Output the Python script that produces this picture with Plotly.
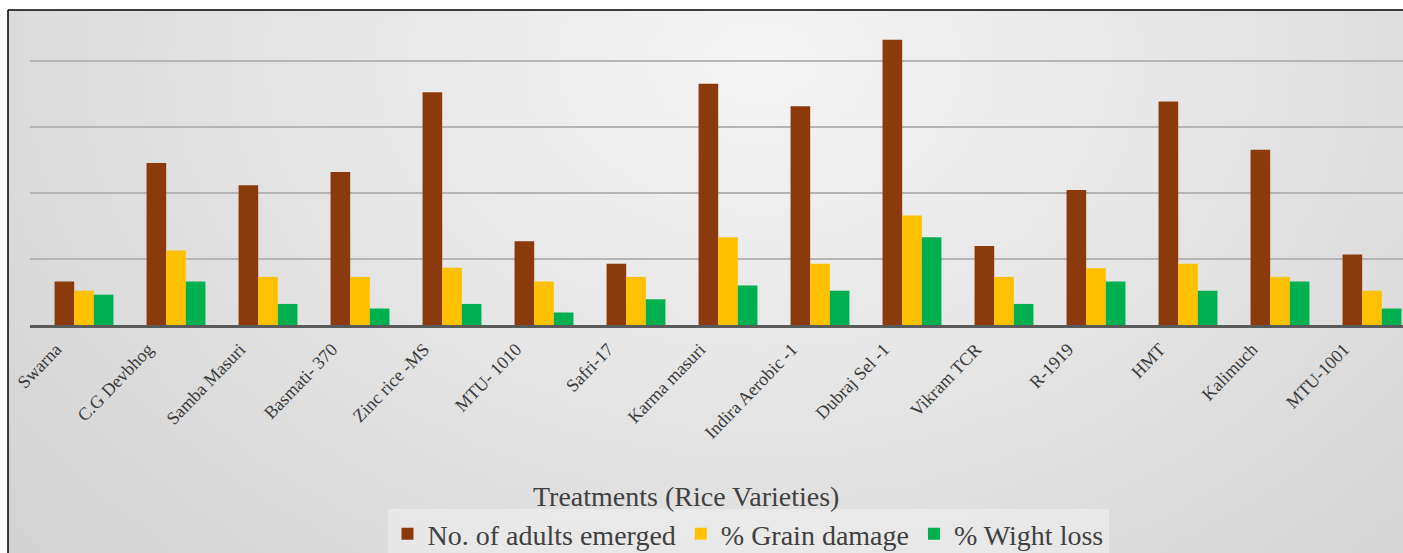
import base64
import struct
import zlib

import numpy as np
import plotly.graph_objects as go

# ---- data (one gridline step = 10 units) ----
varieties = ["Swarna", "C.G Devbhog", "Samba Masuri", "Basmati- 370", "Zinc rice -MS",
             "MTU- 1010", "Safri-17", "Karma masuri", "Indira Aerobic -1", "Dubraj Sel -1",
             "Vikram TCR", "R-1919", "HMT", "Kalimuch", "MTU-1001"]
adults_emerged = [6.6, 24.6, 21.2, 23.2, 35.3, 12.7, 9.3, 36.6, 33.2, 43.3, 12.0, 20.5, 33.9, 26.6, 10.7]
grain_damage = [5.2, 11.3, 7.3, 7.3, 8.7, 6.6, 7.3, 13.3, 9.3, 16.6, 7.3, 8.6, 9.3, 7.3, 5.2]
weight_loss = [4.6, 6.6, 3.2, 2.5, 3.2, 1.9, 3.9, 6.0, 5.2, 13.3, 3.2, 6.6, 5.2, 6.6, 2.5]
series_names = ["No. of adults emerged", "% Grain damage", "% Wight loss"]
series_colors = ["#8B3A0C", "#FFC000", "#00B050"]

W, H = 1403, 553
ML, MR, MT, MB = 30, 0, 10, 228
PW, PH = W - ML - MR, H - MT - MB


def px_x(p):
    return (p - ML) / PW


def px_y(p):
    return (H - MB - p) / PH


# ---- soft radial background (PNG built in memory) ----
def gradient_png(w, h):
    ys, xs = np.mgrid[0:h, 0:w]
    fx = xs / (w - 1) * (W - 8) + 8
    fy = ys / (h - 1) * (H - 10) + 10
    r = np.sqrt(((fx - 760) / 800) ** 2 + ((fy - 60) / 600) ** 2)
    val = np.clip(245 - 27 * r, 195, 250).astype(np.uint8)
    raw = b"".join(b"\x00" + val[i].tobytes() for i in range(h))

    def chunk(tag, data):
        c = struct.pack(">I", len(data)) + tag + data
        return c + struct.pack(">I", zlib.crc32(tag + data) & 0xFFFFFFFF)

    png = b"\x89PNG\r\n\x1a\n" + chunk(b"IHDR", struct.pack(">IIBBBBB", w, h, 8, 0, 0, 0, 0))
    png += chunk(b"IDAT", zlib.compress(raw, 9)) + chunk(b"IEND", b"")
    return "data:image/png;base64," + base64.b64encode(png).decode()


fig = go.Figure()
for name, vals, col in zip(series_names, [adults_emerged, grain_damage, weight_loss], series_colors):
    fig.add_trace(go.Bar(x=list(range(len(varieties))), y=vals, name=name,
                         marker=dict(color=col, line=dict(width=0))))

serif = "Liberation Serif"
fig.update_layout(
    width=W, height=H,
    margin=dict(l=ML, r=MR, t=MT, b=MB, autoexpand=False),
    paper_bgcolor="white",
    plot_bgcolor="rgba(0,0,0,0)",
    barmode="group", bargap=0.36, bargroupgap=0,
    font=dict(family=serif, color="#404040"),
    showlegend=True,
    legend=dict(orientation="h", x=px_x(748), y=px_y(534), xanchor="center", yanchor="middle",
                font=dict(family=serif, size=28, color="#404040"),
                bgcolor="rgba(240,240,240,0.55)", itemwidth=30, traceorder="normal"),
    xaxis=dict(range=[-0.587, 14.337], tickmode="array", tickvals=list(range(len(varieties))),
               ticktext=varieties, tickangle=-46, ticks="", showgrid=False,
               showline=True, linecolor="#5a5a5a", linewidth=2.5,
               tickfont=dict(family=serif, size=18, color="#3a3a3a"),
               ticklabelshift=-28, ticklabelstandoff=4),
    yaxis=dict(range=[0, 47.8], dtick=10, showticklabels=False, ticks="", showgrid=True,
               gridcolor="#b5b5b5", gridwidth=1.5, zeroline=False, showline=False),
    images=[dict(source=gradient_png(280, 110), xref="paper", yref="paper",
                 x=px_x(8), y=px_y(10), sizex=(W - 8) / PW, sizey=(H - 10) / PH,
                 xanchor="left", yanchor="top", sizing="stretch", layer="below")],
    shapes=[
        dict(type="line", xref="paper", yref="paper", x0=px_x(8), x1=px_x(W), y0=px_y(10), y1=px_y(10),
             line=dict(color="black", width=1.5)),
        dict(type="line", xref="paper", yref="paper", x0=px_x(8), x1=px_x(8), y0=px_y(10), y1=px_y(H),
             line=dict(color="black", width=1.5)),
    ],
    annotations=[dict(text="Treatments (Rice Varieties)", xref="paper", yref="paper",
                      x=px_x(686), y=px_y(497), xanchor="center", yanchor="middle", showarrow=False,
                      font=dict(family=serif, size=28, color="#404040"))],
)

fig.write_html("out.html", config={"displayModeBar": False},
               post_script="document.body.style.margin='0';document.body.style.overflow='hidden';")
